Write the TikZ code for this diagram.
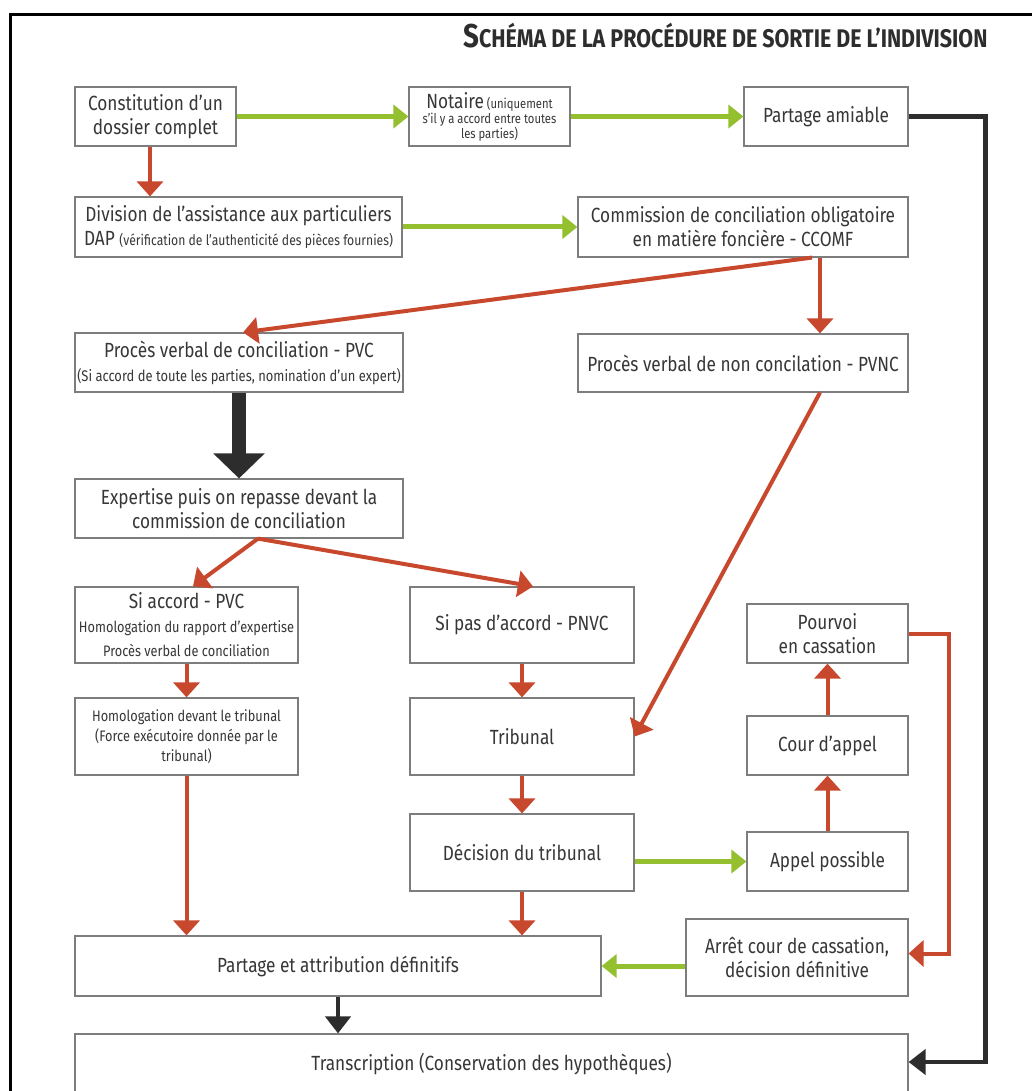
\documentclass[tikz,border=0pt]{standalone}
\usepackage{fontspec}
\setmainfont{Fira Sans}[FakeStretch=0.84]
\usetikzlibrary{arrows.meta}
\definecolor{redc}{RGB}{200,72,46}
\definecolor{greenc}{RGB}{148,192,48}
\definecolor{darkc}{RGB}{45,45,45}
\definecolor{boxgray}{RGB}{125,125,125}
\definecolor{textgray}{RGB}{55,55,55}
\newcommand\fsMain{\fontsize{20.5}{24}\selectfont}
\newcommand\fsMid{\fontsize{15.2}{20}\selectfont}
\newcommand\fsSmall{\fontsize{13.4}{15}\selectfont}
\newcommand\fsDap{\fontsize{14.5}{17}\selectfont}
\newcommand\fsPvc{\fontsize{15.4}{18}\selectfont}
\begin{document}
\begin{tikzpicture}[x=1pt,y=-1pt,
  bx/.style={draw=boxgray, line width=1.2pt, fill=white, align=center,
    inner sep=0pt, text=textgray, font=\fsMain},
  redarrow/.style={draw=redc, line width=4pt, -{Triangle[width=26pt,length=15pt]}},
  greenarrow/.style={draw=greenc, line width=5pt, -{Triangle[width=23pt,length=15pt]}},
  bigarrow/.style={draw=darkc, line width=14pt, -{Triangle[width=50pt,length=25pt]}},
  darkarrow/.style={draw=darkc, line width=4.5pt, -{Triangle[width=25pt,length=17pt]}},
  frame/.style={draw=black, line width=3pt}
]
\useasboundingbox (0,0) rectangle (1032,1091);
\fill[white] (0,0) rectangle (1032,1091);

% page frame and title
\draw[frame] (10,1091) -- (10,15) -- (1032,15);
\node[anchor=base west, inner sep=0pt, text=darkc, font=\bfseries] (title) at (463,48)
  {{\fontsize{33}{33}\selectfont S}{\fontsize{25.5}{25.5}\selectfont CHÉMA DE LA PROCÉDURE DE SORTIE DE L’INDIVISION}};

% boxes
\node[bx, minimum width=161pt, minimum height=59pt] (const) at (155.5,116.5)
  {Constitution d’un\\dossier complet};
\node[bx, minimum width=161pt, minimum height=59pt, font=\fsSmall] (notaire) at (489.5,116.5)
  {{\fsMain Notaire} (uniquement\\s’il y a accord entre toutes\\les parties)};
\node[bx, minimum width=164pt, minimum height=59pt] (amiable) at (826,116.5)
  {Partage amiable};
\node[bx, minimum width=327pt, minimum height=60pt] (dap) at (238.5,227)
  {Division de l’assistance aux particuliers\\DAP {\fsDap (vérification de l’authenticité des pièces fournies)}};
\node[bx, minimum width=330pt, minimum height=60pt] (ccomf) at (743,227)
  {Commission de conciliation obligatoire\\en matière foncière - CCOMF};
\node[bx, minimum width=328pt, minimum height=59pt] (pvc) at (239,362.5)
  {Procès verbal de conciliation - PVC\\{\fsPvc (Si accord de toute les parties, nomination d’un expert)}};
\node[bx, minimum width=330pt, minimum height=58pt] (pvnc) at (743,363)
  {Procès verbal de non concilation - PVNC};
\node[bx, minimum width=328pt, minimum height=59pt] (expert) at (239,508.5)
  {Expertise puis on repasse devant la\\commission de conciliation};
\node[bx, minimum width=223pt, minimum height=76pt] (siacc) at (186.5,625)
  {Si accord - PVC\\{\fsMid Homologation du rapport d’expertise}\\{\fsMid Procès verbal de conciliation}};
\node[bx, minimum width=223pt, minimum height=77pt, font=\fsMid] (homol) at (186.5,736.5)
  {Homologation devant le tribunal\\(Force exécutoire donnée par le\\tribunal)};
\node[bx, minimum width=224pt, minimum height=76pt] (sipas) at (522,625)
  {Si pas d’accord - PNVC};
\node[bx, minimum width=224pt, minimum height=77pt] (trib) at (522,736.5)
  {Tribunal};
\node[bx, minimum width=224pt, minimum height=77pt] (decis) at (522,852.5)
  {Décision du tribunal};
\node[bx, minimum width=161pt, minimum height=59pt] (pourvoi) at (827.5,633.5)
  {Pourvoi\\en cassation};
\node[bx, minimum width=161pt, minimum height=59pt] (cour) at (827.5,745.5)
  {Cour d’appel};
\node[bx, minimum width=161pt, minimum height=59pt] (appel) at (827.5,861.5)
  {Appel possible};
\node[bx, minimum width=222pt, minimum height=77pt] (arret) at (797,957.5)
  {Arrêt cour de cassation,\\décision définitive};
\node[bx, minimum width=526pt, minimum height=60pt] (partage) at (338,966)
  {Partage et attribution définitifs};
\node[bx, minimum width=833pt, minimum height=60pt] (transc) at (491.5,1064)
  {Transcription (Conservation des hypothèques)};

% green connectors
\draw[greenarrow] (const.east) -- (notaire.west);
\draw[greenarrow] (notaire.east) -- (amiable.west);
\draw[greenarrow] (dap.east) -- (ccomf.west);
\draw[greenarrow] (decis.east |- appel.west) -- (appel.west);
\draw[greenarrow] (arret.west |- partage.east) -- (partage.east);

% red connectors
\draw[redarrow] ([xshift=-5.5pt]const.south) -- ([xshift=-5.5pt]const.south |- dap.north);
\draw[redarrow] ([xshift=69pt]ccomf.south) -- ([xshift=4pt]pvc.north);
\draw[redarrow] ([xshift=77pt]ccomf.south) -- ([xshift=77pt]pvnc.north);
\draw[redarrow] ([xshift=19pt]expert.south) -- ([xshift=6.5pt]siacc.north);
\draw[redarrow] ([xshift=19pt]expert.south) -- ([xshift=11pt]sipas.north);
\draw[redarrow] ([xshift=77pt]pvnc.south) -- (trib.east);
\draw[redarrow] (siacc.south) -- (homol.north);
\draw[redarrow] (sipas.south) -- (trib.north);
\draw[redarrow] (trib.south) -- (decis.north);
\draw[redarrow] (homol.south) -- (homol.south |- partage.north);
\draw[redarrow] (decis.south) -- (decis.south |- partage.north);
\draw[redarrow] (appel.north) -- (cour.south);
\draw[redarrow] (cour.north) -- (pourvoi.south);
\draw[redarrow] (pourvoi.east) -- ++(40,0) |- ([yshift=4pt]arret.east);

% dark connectors
\draw[bigarrow] (pvc.south) -- (expert.north);
\draw[darkarrow] (partage.south) -- (partage.south |- transc.north);
\draw[darkarrow, line join=miter] (amiable.east) -- ++(77,0) |- ([yshift=2pt]transc.east);
\end{tikzpicture}
\end{document}
